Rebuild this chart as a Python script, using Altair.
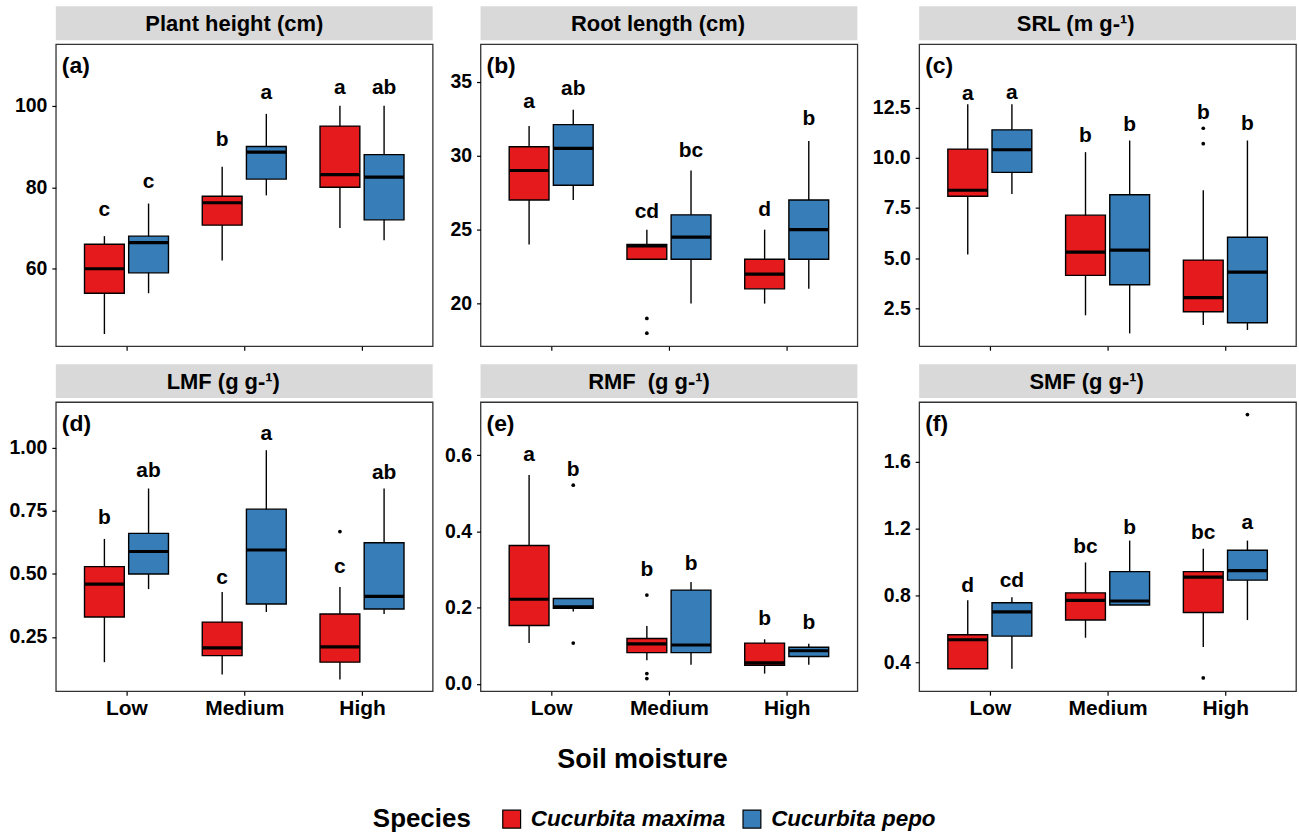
import altair as alt
import pandas as pd

MOISTURE = ["Low", "Medium", "High"]
SPECIES = ["Cucurbita maxima", "Cucurbita pepo"]
SPECIES_COLORS = ["#E41A1C", "#377EB8"]

# group order: Low/maxima, Low/pepo, Medium/maxima, Medium/pepo, High/maxima, High/pepo
height_lo = [44, 54, 62, 78, 70, 67]
height_q1 = [54, 59, 70.7, 82, 80, 72]
height_med = [60, 66.4, 76.2, 88.6, 83.1, 82.5]
height_q3 = [66, 68, 77.8, 90, 95, 88]
height_hi = [68, 76, 85, 98, 100, 100]
height_letters = ["c", "c", "b", "a", "a", "ab"]
height_letter_y = [74.4, 81.2, 91.5, 103, 104.4, 104.4]
height_out_group = []
height_out_value = []

root_lo = [24, 27, 23, 20, 20, 21]
root_q1 = [27, 28, 23, 23, 21, 23]
root_med = [29, 30.5, 23.9, 24.5, 22, 25]
root_q3 = [30.6, 32.1, 24, 26, 23, 27]
root_hi = [32, 33.1, 25, 29, 25, 31]
root_letters = ["a", "ab", "cd", "bc", "d", "b"]
root_letter_y = [33.6, 34.5, 26.2, 30.3, 26.35, 32.5]
root_out_group = [2, 2]
root_out_value = [19.0, 18.0]

srl_lo = [5.18, 8.2, 2.15, 1.25, 1.67, 1.42]
srl_q1 = [8.08, 9.27, 4.14, 3.67, 2.33, 1.78]
srl_med = [8.38, 10.4, 5.3, 5.4, 3.03, 4.3]
srl_q3 = [10.43, 11.39, 7.14, 8.16, 4.9, 6.04]
srl_hi = [12.67, 12.67, 10.28, 10.86, 8.38, 10.86]
srl_letters = ["a", "a", "b", "b", "b", "b"]
srl_letter_y = [13.16, 13.25, 11.06, 11.64, 12.25, 11.69]
srl_out_group = [4, 4]
srl_out_value = [11.47, 10.7]

lmf_lo = [0.15, 0.44, 0.101, 0.349, 0.081, 0.341]
lmf_q1 = [0.329, 0.50, 0.176, 0.381, 0.15, 0.361]
lmf_med = [0.46, 0.589, 0.207, 0.595, 0.211, 0.411]
lmf_q3 = [0.529, 0.661, 0.309, 0.757, 0.341, 0.624]
lmf_hi = [0.639, 0.839, 0.428, 0.991, 0.448, 0.839]
lmf_letters = ["b", "ab", "c", "a", "c", "ab"]
lmf_letter_y = [0.723, 0.909, 0.483, 1.057, 0.527, 0.901]
lmf_out_group = [4]
lmf_out_value = [0.668]

rmf_lo = [0.107, 0.19, 0.062, 0.05, 0.027, 0.05]
rmf_q1 = [0.153, 0.198, 0.082, 0.082, 0.049, 0.072]
rmf_med = [0.222, 0.202, 0.105, 0.102, 0.055, 0.087]
rmf_q3 = [0.363, 0.224, 0.119, 0.246, 0.107, 0.096]
rmf_hi = [0.548, 0.224, 0.152, 0.267, 0.117, 0.105]
rmf_letters = ["a", "b", "b", "b", "b", "b"]
rmf_letter_y = [0.6, 0.56, 0.298, 0.315, 0.169, 0.159]
rmf_out_group = [1, 1, 2, 2, 2]
rmf_out_value = [0.521, 0.107, 0.233, 0.027, 0.014]

smf_lo = [0.361, 0.361, 0.547, 0.743, 0.492, 0.653]
smf_q1 = [0.361, 0.557, 0.653, 0.743, 0.698, 0.892]
smf_med = [0.535, 0.702, 0.771, 0.767, 0.91, 0.949]
smf_q3 = [0.565, 0.757, 0.816, 0.943, 0.943, 1.071]
smf_hi = [0.771, 0.79, 0.998, 1.129, 1.08, 1.129]
smf_letters = ["d", "cd", "bc", "b", "bc", "a"]
smf_letter_y = [0.859, 0.884, 1.09, 1.202, 1.173, 1.237]
smf_out_group = [4, 5]
smf_out_value = [0.306, 1.884]

FONT = "Liberation Sans"


def group_frame(lo, q1, med, q3, hi, letters, letter_y):
    return pd.DataFrame({
        "moisture": [MOISTURE[i // 2] for i in range(6)],
        "mi": [i // 2 + 1 for i in range(6)],
        "species": [SPECIES[i % 2] for i in range(6)],
        "lo": lo, "q1": q1, "med": med, "q3": q3, "hi": hi,
        "letter": letters, "ly": letter_y,
    })


def outlier_frame(groups, values):
    return pd.DataFrame({
        "mi": [g // 2 + 1 for g in groups],
        "species": [SPECIES[g % 2] for g in groups],
        "v": values,
    })


PANELS = [
    dict(title="Plant height (cm)", tag="(a)", dx=-10,
         df=group_frame(height_lo, height_q1, height_med, height_q3, height_hi, height_letters, height_letter_y),
         out=outlier_frame(height_out_group, height_out_value),
         domain=[41, 115.1], ticks=[60, 80, 100], fmt="d", ext=40),
    dict(title="Root length (cm)", tag="(b)", dx=-11,
         df=group_frame(root_lo, root_q1, root_med, root_q3, root_hi, root_letters, root_letter_y),
         out=outlier_frame(root_out_group, root_out_value),
         domain=[17.12, 37.54], ticks=[20, 25, 30, 35], fmt="d", ext=40),
    dict(title="SRL (m g-\u00b9)", tag="(c)", dx=-32,
         df=group_frame(srl_lo, srl_q1, srl_med, srl_q3, srl_hi, srl_letters, srl_letter_y),
         out=outlier_frame(srl_out_group, srl_out_value),
         domain=[0.61, 15.66], ticks=[2.5, 5.0, 7.5, 10.0, 12.5], fmt=".1f", ext=54),
    dict(title="LMF (g g-\u00b9)", tag="(d)", dx=-21,
         df=group_frame(lmf_lo, lmf_q1, lmf_med, lmf_q3, lmf_hi, lmf_letters, lmf_letter_y),
         out=outlier_frame(lmf_out_group, lmf_out_value),
         domain=[0.035, 1.182], ticks=[0.25, 0.5, 0.75, 1.0], fmt=".2f", ext=40),
    dict(title="RMF\u00a0 (g g-\u00b9)", tag="(e)", dx=-20,
         df=group_frame(rmf_lo, rmf_q1, rmf_med, rmf_q3, rmf_hi, rmf_letters, rmf_letter_y),
         out=outlier_frame(rmf_out_group, rmf_out_value),
         domain=[-0.019, 0.739], ticks=[0.0, 0.2, 0.4, 0.6], fmt=".1f", ext=40),
    dict(title="SMF (g g-\u00b9)", tag="(f)", dx=-21,
         df=group_frame(smf_lo, smf_q1, smf_med, smf_q3, smf_hi, smf_letters, smf_letter_y),
         out=outlier_frame(smf_out_group, smf_out_value),
         domain=[0.227, 1.959], ticks=[0.4, 0.8, 1.2, 1.6], fmt=".1f", ext=54),
]

W = 378
HEIGHTS = [303, 290]
STRIP_H = 34
DODGE = 0.1875
HALF = 0.169

label_expr = " : ".join(
    [f"datum.value == {i + 1} ? '{m}'" for i, m in enumerate(MOISTURE[:-1])] + [f"'{MOISTURE[-1]}'"]
)

xc_expr = f"datum.mi + (datum.species == '{SPECIES[0]}' ? {-DODGE} : {DODGE})"


def make_panel(p, row, col):
    bottom = row == 1
    xscale = alt.Scale(domain=[0.4, 3.6], nice=False, zero=False)
    yscale = alt.Scale(domain=p["domain"], nice=False, zero=False)
    xaxis_kw = dict(values=[1, 2, 3], grid=False, domain=False, tickColor="black", tickSize=4,
                    tickWidth=1.2)
    if bottom:
        xaxis_kw.update(labelExpr=label_expr, labelFontSize=21, labelFontWeight="bold",
                        labelColor="black", labelPadding=2, labelFont=FONT)
        if col == 1:
            xaxis_kw.update(titleFontSize=27, titleFontWeight="bold", titleColor="black",
                            titleFont=FONT, titleX=162, titlePadding=29)
    else:
        xaxis_kw.update(labels=False, minExtent=4, maxExtent=4)
    xaxis = alt.Axis(**xaxis_kw)
    yaxis = alt.Axis(values=p["ticks"], format=p["fmt"], grid=False, domain=False,
                     tickColor="black", tickSize=4, tickWidth=1.2, labelFontSize=19.5,
                     labelFontWeight="bold", labelColor="black", labelPadding=5,
                     labelFont=FONT, minExtent=p["ext"], maxExtent=p["ext"])
    x_title = "Soil moisture" if (bottom and col == 1) else None

    def X(field):
        return alt.X(f"{field}:Q", scale=xscale, axis=xaxis, title=x_title)

    def Y(field):
        return alt.Y(f"{field}:Q", scale=yscale, axis=yaxis, title=None)

    show_legend = row == 0 and col == 0
    legend = alt.Legend(
        title="Species", orient="none", legendX=318, legendY=804, direction="horizontal",
        titleOrient="left", titleFontSize=26, titleFontWeight="bold", titleColor="black",
        titleFont=FONT, titlePadding=29, labelFontSize=22.5, labelFontStyle="italic",
        labelFontWeight="bold", labelColor="black", labelFont=FONT, labelOffset=8,
        labelLimit=400, symbolType="square", symbolSize=320, symbolStrokeColor="black",
        symbolStrokeWidth=1.2, columnPadding=14,
    ) if show_legend else None

    fill = alt.Fill("species:N", scale=alt.Scale(domain=SPECIES, range=SPECIES_COLORS),
                    legend=legend)

    base = alt.Chart(p["df"]).transform_calculate(
        xc=xc_expr, xl=f"datum.xc - {HALF}", xr=f"datum.xc + {HALF}")

    whisker = base.mark_rule(color="black", strokeWidth=1.4).encode(
        x=X("xc"), y=Y("lo"), y2="hi")
    box = base.mark_rect(stroke="black", strokeWidth=1.4).encode(
        x=X("xl"), x2="xr", y=Y("q1"), y2="q3", fill=fill)
    median = base.mark_rule(color="black", strokeWidth=3.2).encode(
        x=X("xl"), x2="xr", y=Y("med"))
    letters = base.mark_text(font=FONT, fontSize=21, fontWeight="bold", color="black",
                             baseline="middle").encode(x=X("xc"), y=Y("ly"), text="letter:N")
    tag = alt.Chart(pd.DataFrame({"tag": [p["tag"]]})).mark_text(
        font=FONT, fontSize=23, fontWeight="bold", color="black", align="left",
        baseline="middle").encode(x=alt.value(6), y=alt.value(22), text="tag:N")

    layers = [whisker, box, median]
    if len(p["out"]):
        outl = alt.Chart(p["out"]).transform_calculate(xc=xc_expr).mark_circle(
            color="black", size=14, opacity=1).encode(x=X("xc"), y=Y("v"))
        layers.append(outl)
    layers += [letters, tag]
    plot = alt.layer(*layers).properties(width=W, height=HEIGHTS[row])

    strip_bg = alt.Chart(pd.DataFrame({"t": [p["title"]]})).mark_rect(color="#D9D9D9").encode(
        x=alt.value(0), x2=alt.value(W), y=alt.value(0), y2=alt.value(STRIP_H))
    strip_txt = alt.Chart(pd.DataFrame({"t": [p["title"]]})).mark_text(
        font=FONT, fontSize=22, fontWeight="bold", color="black", align="center",
        baseline="middle").encode(x=alt.value(W / 2 + p["dx"]), y=alt.value(STRIP_H / 2 + 1),
                                  text="t:N")
    strip = alt.layer(strip_bg, strip_txt).properties(
        width=W, height=STRIP_H, view=alt.ViewBackground(stroke="transparent"))

    return alt.vconcat(strip, plot, spacing=2).resolve_scale(x="independent", y="independent")


rows = []
for r in range(2):
    panels = [make_panel(PANELS[r * 3 + c], r, c) for c in range(3)]
    rows.append(alt.hconcat(*panels, spacing=6).resolve_scale(
        x="independent", y="independent", fill="shared"))

chart = alt.vconcat(*rows, spacing=11).resolve_scale(
    x="independent", y="independent", fill="shared"
).properties(
    padding={"left": 8, "top": 4, "right": 2, "bottom": 2},
    background="white",
).configure(font=FONT).configure_view(stroke="#333333", strokeWidth=1.3)

chart.save("out.html", embed_options={"renderer": "svg", "actions": False})
